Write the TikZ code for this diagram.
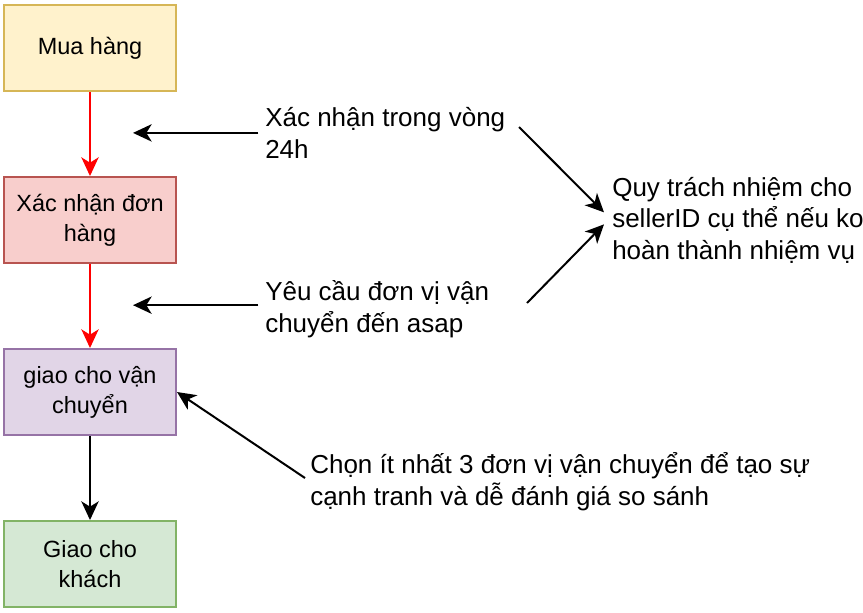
\documentclass[tikz,border=0pt]{standalone}
\usepackage{fontspec}
\setmainfont{Liberation Sans}
\usepackage{xcolor}
\usetikzlibrary{arrows.meta}
\definecolor{yellowfill}{HTML}{FFF2CC}\definecolor{yellowline}{HTML}{D6B656}
\definecolor{redfill}{HTML}{F8CECC}\definecolor{redline}{HTML}{B85450}
\definecolor{purplefill}{HTML}{E1D5E7}\definecolor{purpleline}{HTML}{9673A6}
\definecolor{greenfill}{HTML}{D5E8D4}\definecolor{greenline}{HTML}{82B366}
\begin{document}
\begin{tikzpicture}[x=0.75pt,y=-0.75pt,
    box/.style={shape=rectangle,draw,line width=1.5pt,minimum width=129pt,minimum height=64.5pt,align=center,font=\fontsize{17.6pt}{22.5pt}\selectfont},
    note/.style={shape=rectangle,inner sep=0pt,align=left,anchor=base west,font=\fontsize{19.5pt}{23.3pt}\selectfont},
    arr/.style={line width=1.5pt,-{Stealth[length=14pt,width=13pt,inset=4pt]}}]
  \useasboundingbox (0,0) rectangle (863,612);
  \node[box,fill=yellowfill,draw=yellowline] (mua) at (90,48) {Mua hàng};
  \node[box,fill=redfill,draw=redline] (xacnhan) at (90,220) {Xác nhận đơn\\hàng};
  \node[box,fill=purplefill,draw=purpleline] (giaovc) at (90,392) {giao cho vận\\chuyển};
  \node[box,fill=greenfill,draw=greenline] (giaokhach) at (90,564) {Giao cho\\khách};
  % base anchor sits on the last line
  \node[note] (xn24h) at (265,158) {Xác nhận trong vòng\\24h};
  \node[note] (yeucau) at (265,332) {Yêu cầu đơn vị vận\\chuyển đến asap};
  \node[note] (quytn) at (612,259) {Quy trách nhiệm cho\\sellerID cụ thể nếu ko\\hoàn thành nhiệm vụ};
  \node[note] (chon) at (310,505) {Chọn ít nhất 3 đơn vị vận chuyển để tạo sự\\cạnh tranh và dễ đánh giá so sánh};
  \coordinate (p1) at (133,133);
  \coordinate (p2) at (133,305);
  \coordinate (s1) at (519,127);
  \coordinate (s2) at (527,303);
  \coordinate (s3) at (305,478);
  \draw[arr,red] (mua) -- (xacnhan);
  \draw[arr,red] (xacnhan) -- (giaovc);
  \draw[arr] (giaovc) -- (giaokhach);
  \draw[arr] ([xshift=-5pt]xn24h.west) -- (p1 |- xn24h.west);
  \draw[arr] ([xshift=-5pt,yshift=3pt]yeucau.west) -- ([yshift=3pt]p2 |- yeucau.west);
  \draw[arr] (s1) -- ([xshift=-6pt,yshift=6pt]quytn.west);
  \draw[arr] (s2) -- ([xshift=-6pt,yshift=-3pt]quytn.west);
  \draw[arr] (s3) -- (giaovc.east);
\end{tikzpicture}
\end{document}
